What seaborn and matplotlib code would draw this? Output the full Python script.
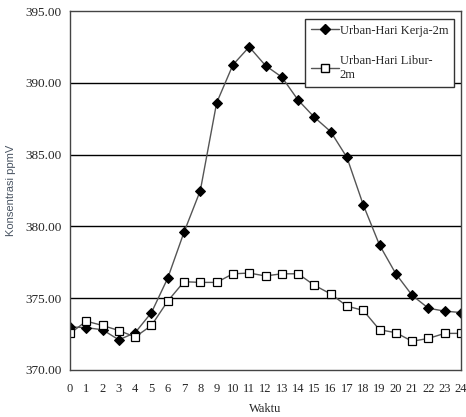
import matplotlib
matplotlib.use("Agg")
import matplotlib.pyplot as plt
import seaborn as sns
import pandas as pd
import numpy as np

hours = list(range(25))
kerja = [373.0, 372.95, 372.8, 372.1, 372.6, 374.0, 376.4, 379.6, 382.5, 388.6,
         391.25, 392.5, 391.2, 390.4, 388.8, 387.6, 386.6, 384.8, 381.5, 378.7,
         376.7, 375.2, 374.3, 374.1, 374.0]
libur = [372.55, 373.4, 373.1, 372.75, 372.3, 373.1, 374.8, 376.15, 376.1, 376.1,
         376.7, 376.75, 376.55, 376.7, 376.7, 375.9, 375.3, 374.45, 374.15, 372.8,
         372.6, 372.0, 372.2, 372.55, 372.55]
series_names = ["Urban-Hari Kerja-2m", "Urban-Hari Libur-\n2m"]
yticks = [370, 375, 380, 385, 390, 395]

df = pd.concat([
    pd.DataFrame({"Waktu": hours, "val": kerja, "series": series_names[0]}),
    pd.DataFrame({"Waktu": hours, "val": libur, "series": series_names[1]}),
])

sns.set_style("white")
plt.rcParams['font.family'] = ['Liberation Serif', 'DejaVu Serif']

fig = plt.figure(figsize=(4.66, 4.17), dpi=100)
ax = fig.add_axes([70/466, 1 - 370/417, (461 - 70)/466, (370 - 11)/417])

sns.lineplot(data=df, x="Waktu", y="val", hue="series", style="series",
             palette={series_names[0]: "#555555", series_names[1]: "#555555"},
             markers={series_names[0]: "D", series_names[1]: "s"},
             dashes=False, linewidth=1.0, ax=ax, legend=False)

lines = ax.get_lines()
lines[0].set_markerfacecolor("black"); lines[0].set_markeredgecolor("black"); lines[0].set_markersize(5)
lines[1].set_markerfacecolor("white"); lines[1].set_markeredgecolor("black"); lines[1].set_markersize(6)
lines[1].set_markeredgewidth(0.9)

ax.set_xlim(0, 24)
ax.set_ylim(370, 395)
ax.set_xticks(hours)
ax.set_xticklabels([str(h) for h in hours], fontsize=9)
ax.set_yticks(yticks)
ax.set_yticklabels([f"{v:.2f}" for v in yticks], fontsize=9.5)
for y in yticks[1:-1]:
    ax.axhline(y, color="black", linewidth=1.0, zorder=0)
for s in ax.spines.values():
    s.set_color("#444444"); s.set_linewidth(1.0)
ax.tick_params(axis="y", length=3, width=0.8, color="#444444", pad=3)
ax.tick_params(axis="x", length=0, pad=9)

ax.set_xlabel("Waktu", fontsize=9, labelpad=6)
ax.set_ylabel("Konsentrasi ppmV", fontsize=8, color="#4a5563",
              family=["Liberation Sans Narrow", "Liberation Sans", "DejaVu Sans"], labelpad=7)

from matplotlib.lines import Line2D
handles = [
    Line2D([0], [0], color="#555555", marker="D", markerfacecolor="black", markeredgecolor="black", markersize=5, linewidth=1.0),
    Line2D([0], [0], color="#555555", marker="s", markerfacecolor="white", markeredgecolor="black", markersize=5.5, linewidth=1.0),
]
leg = ax.legend(handles, series_names, loc="upper right", bbox_to_anchor=(0.982, 0.978),
                fontsize=9, frameon=True, fancybox=False, handlelength=2.2,
                handletextpad=0.1, borderpad=0.45, labelspacing=1.5, borderaxespad=0)
leg.get_frame().set_edgecolor("#333333")
leg.get_frame().set_linewidth(1.0)
leg.get_frame().set_alpha(1)

fig.savefig("out.png", dpi=100)
